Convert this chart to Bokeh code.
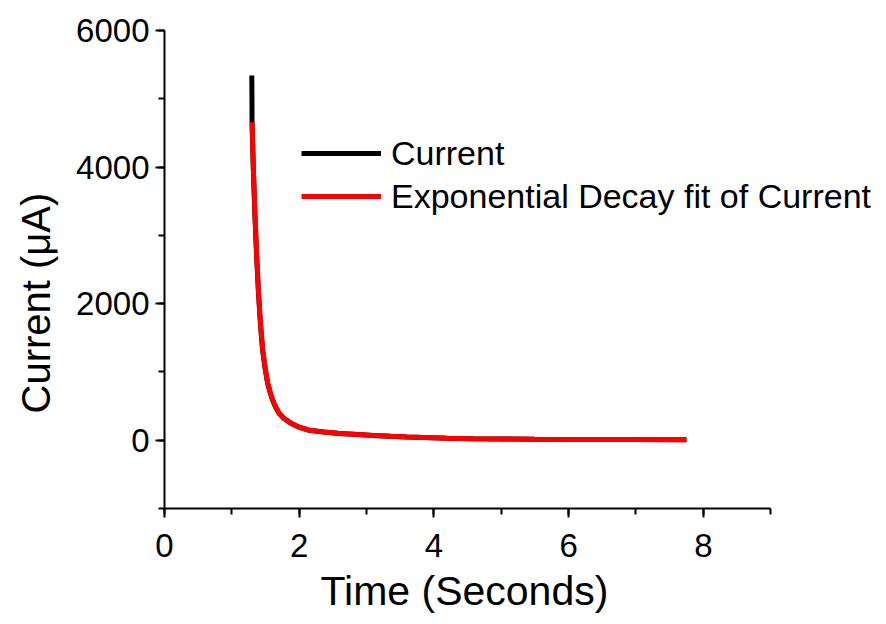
from bokeh.plotting import figure
from bokeh.models import Range1d, SingleIntervalTicker, Legend, LegendItem, Title
from bokeh.embed import file_html
from bokeh.resources import INLINE

# ---- data ----
t_current = [1.296, 1.298, 1.300, 1.318, 1.343, 1.368, 1.393, 1.417, 1.438, 1.457, 1.493,
             1.531, 1.568, 1.605, 1.653, 1.703, 1.778, 1.876, 2.0, 2.145, 2.368, 2.6,
             2.867, 3.1, 3.361, 3.6, 3.851, 4.2, 4.592, 5.0, 5.5, 6.0, 6.5, 7.0, 7.75]
i_current = [5340, 5100, 4660, 3990, 3280, 2690, 2200, 1810, 1535, 1320, 1058,
             836, 702, 586, 479, 391, 316, 250, 191, 147, 121, 100,
             83, 70, 58, 48, 40, 30, 22, 17, 13, 11, 10, 9, 8]

t_fit = [1.300, 1.320, 1.345, 1.370, 1.395, 1.419, 1.440, 1.459, 1.495, 1.533, 1.570,
         1.607, 1.655, 1.705, 1.780, 1.878, 2.0, 2.145, 2.368, 2.6, 2.867, 3.1,
         3.361, 3.6, 3.851, 4.2, 4.592, 5.0, 5.5, 6.0, 6.5, 7.0, 7.75]
i_fit = [4657, 3980, 3268, 2682, 2192, 1804, 1530, 1317, 1055, 834, 700,
         585, 478, 390, 315, 249, 190, 146, 121, 100, 83, 70,
         58, 48, 40, 30, 22, 17, 13, 11, 10, 9, 8]

x_label = "Time (Seconds)"
y_label = "Current (\u03bcA)"
series_names = ["Current", "Exponential Decay fit of Current"]

FONT = "Liberation Sans"

# frame extends to the right edge so the legend is not clipped;
# the axis itself is bounded to 0..9 as in the reference
X_AXIS_END = 9
p = figure(width=886, height=624, output_backend="svg", toolbar_location=None,
           x_range=Range1d(0, X_AXIS_END + 116 / 67.45), y_range=Range1d(-1000, 6000),
           min_border_left=163, min_border_right=0, min_border_top=30, min_border_bottom=116)
p.outline_line_color = None
p.grid.visible = False
p.background_fill_color = "white"
p.border_fill_color = "white"

r1 = p.line(t_current, i_current, line_color="black", line_width=5)
r2 = p.line(t_fit, i_fit, line_color="#ff0000", line_width=5)

p.xaxis.ticker = SingleIntervalTicker(interval=2, num_minor_ticks=2)
p.yaxis.ticker = SingleIntervalTicker(interval=2000, num_minor_ticks=2)
p.xaxis.bounds = (0, X_AXIS_END)

for ax in (p.xaxis[0], p.yaxis[0]):
    ax.axis_line_width = 2
    ax.axis_line_color = "black"
    ax.major_tick_line_width = 2
    ax.minor_tick_line_width = 2
    ax.major_tick_line_color = "black"
    ax.minor_tick_line_color = "black"
    ax.major_tick_in = 0
    ax.major_tick_out = 9
    ax.minor_tick_in = 0
    ax.minor_tick_out = 6
    ax.major_label_text_font = FONT
    ax.major_label_text_font_size = "33px"
    ax.major_label_text_color = "black"
    ax.major_label_standoff = 6
p.xaxis.major_label_standoff = 16

# x label centred under the 0..9 axis (not the whole frame)
xt = Title(text=x_label, align="left", offset=156, vertical_align="top", standoff=17,
           text_font=FONT, text_font_size="41px", text_font_style="normal", text_color="black")
p.add_layout(xt, "below")

yt = Title(text=y_label, align="left", offset=95, vertical_align="top", standoff=27,
           text_font=FONT, text_font_size="40px", text_font_style="normal", text_color="black")
p.add_layout(yt, "left")

legend = Legend(items=[LegendItem(label=series_names[0], renderers=[r1]),
                       LegendItem(label=series_names[1], renderers=[r2])],
                location=(137, 292), orientation="vertical",
                label_text_font=FONT, label_text_font_size="34px", label_text_color="black",
                glyph_width=80, glyph_height=40, label_height=40, spacing=3,
                label_standoff=10, padding=0, margin=0,
                border_line_alpha=0, background_fill_alpha=0)
p.add_layout(legend)

open("out.html", "w").write(file_html(p, INLINE))
